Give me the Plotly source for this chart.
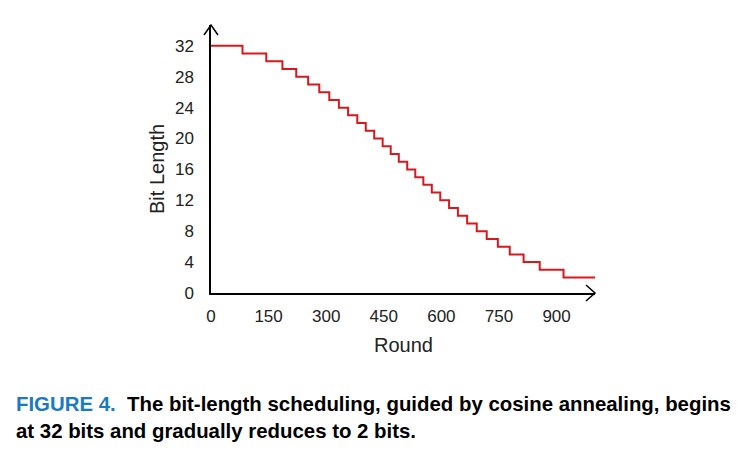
import plotly.graph_objects as go

# Data: round at which each bit-length step begins
step_start_rounds = [0, 82, 144, 186, 222, 253, 282, 308, 333, 357, 381, 403, 425,
                     447, 468, 489, 511, 532, 553, 575, 597, 620, 643, 667, 692,
                     718, 747, 778, 814, 856, 918]
bit_lengths = [32, 31, 30, 29, 28, 27, 26, 25, 24, 23, 22, 21, 20, 19, 18, 17, 16,
               15, 14, 13, 12, 11, 10, 9, 8, 7, 6, 5, 4, 3, 2]
last_round = 1000
x_ticks = [0, 150, 300, 450, 600, 750, 900]
y_ticks = [0, 4, 8, 12, 16, 20, 24, 28, 32]

W, H = 745, 455
L, R, T, B = 211, 150, 25, 162
pw, ph = W - L - R, H - T - B

def px(xp):
    return (xp - L) / pw

def py(yp):
    return (H - B - yp) / ph

xs = step_start_rounds + [last_round]
ys = bit_lengths + [bit_lengths[-1]]

fig = go.Figure()
fig.add_trace(go.Scatter(x=xs, y=ys, mode="lines", line_shape="hv",
                         line=dict(color="#d7191f", width=2), hoverinfo="skip"))

axfont = dict(family="Liberation Sans, Arial, sans-serif", size=17, color="#222222")
fig.update_layout(
    width=W, height=H, margin=dict(l=L, r=R, t=T, b=B, pad=0),
    paper_bgcolor="white", plot_bgcolor="white", showlegend=False,
    xaxis=dict(range=[0, 1000], tickvals=x_ticks, showgrid=False, zeroline=False,
               showline=True, linecolor="black", linewidth=1.5,
               ticks="outside", ticklen=7, tickcolor="rgba(0,0,0,0)",
               tickfont=axfont),
    yaxis=dict(range=[0, 34.7], tickvals=y_ticks, showgrid=False, zeroline=False,
               showline=True, linecolor="black", linewidth=1.5,
               ticks="outside", ticklen=12, tickcolor="rgba(0,0,0,0)",
               tickfont=axfont),
)

# arrowheads
fig.add_shape(type="path", xref="paper", yref="paper", xsizemode="pixel", ysizemode="pixel",
              xanchor=1, yanchor=0, path="M -9,8 L 0,0 L -9,-8",
              line=dict(color="black", width=1.5))
fig.add_shape(type="path", xref="paper", yref="paper", xsizemode="pixel", ysizemode="pixel",
              xanchor=0, yanchor=1, path="M -7,-10 L 0,0 L 7,-10",
              line=dict(color="black", width=1.5))

titlefont = dict(family="Liberation Sans, Arial, sans-serif", size=20, color="#222222")
fig.add_annotation(text="Round", xref="paper", yref="paper", x=px(403), y=py(345),
                   showarrow=False, font=titlefont, xanchor="center", yanchor="middle")
fig.add_annotation(text="Bit Length", xref="paper", yref="paper", x=px(157), y=py(169),
                   showarrow=False, font=titlefont, textangle=-90,
                   xanchor="center", yanchor="middle")

capfont = dict(family="Liberation Sans, Arial, sans-serif", size=20.4, color="black")
fig.add_annotation(
    text="<b><span style='color:#1a7ac2'>FIGURE 4.</span>  The bit-length scheduling, guided by cosine annealing, begins</b><br>"
         "<b>at 32 bits and gradually reduces to 2 bits.</b>",
    xref="paper", yref="paper", x=px(14), y=py(391), xanchor="left", yanchor="top",
    align="left", showarrow=False, font=capfont)

fig.write_html("out.html")
